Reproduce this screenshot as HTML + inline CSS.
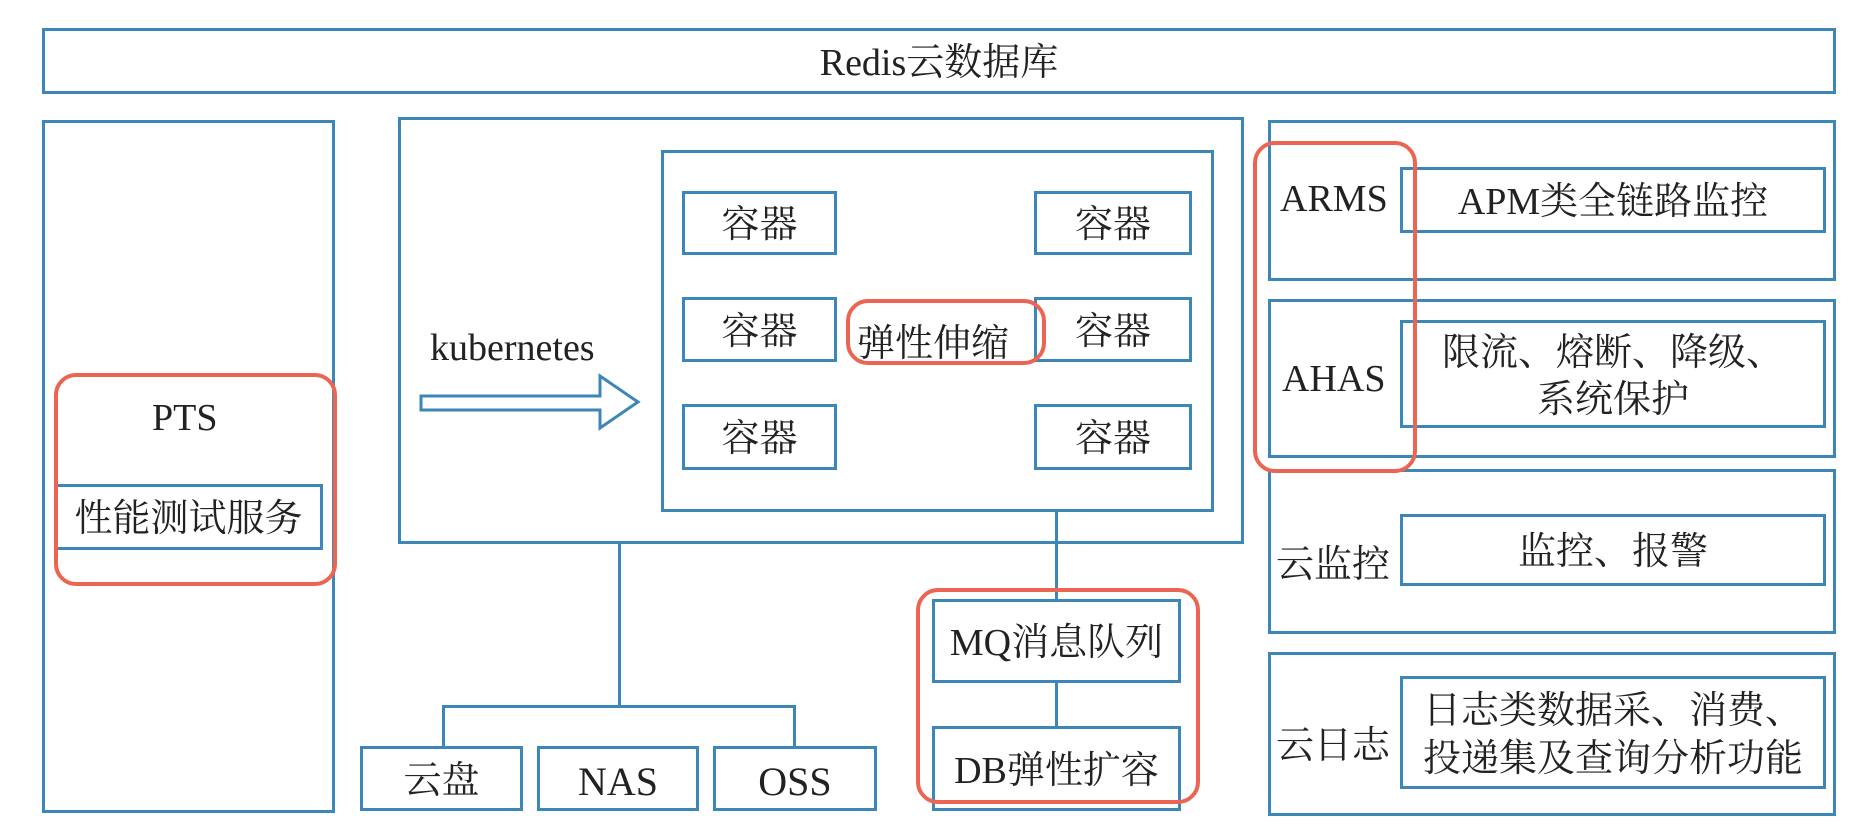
<!DOCTYPE html>
<html><head><meta charset="utf-8"><style>
html,body{margin:0;padding:0;background:#fff;}
body{width:1876px;height:840px;position:relative;overflow:hidden;font-family:"Liberation Serif","Noto Serif CJK SC","Noto Sans CJK SC",serif;color:#222;}
.b{position:absolute;border:3px solid #3d86b8;box-sizing:border-box;display:flex;align-items:center;justify-content:center;font-size:38px;line-height:1.25;text-align:center;padding-top:6px;}
.r{position:absolute;border:4px solid #ec6452;border-radius:22px;box-sizing:border-box;}
.t{position:absolute;font-size:38px;white-space:nowrap;}
.l{position:absolute;background:#3d86b8;}
</style></head><body>
<div class="b" style="left:42px;top:28px;width:1794px;height:66px;">Redis云数据库</div>

<div class="b" style="left:42px;top:120px;width:293px;height:693px;"></div>
<div class="t" style="left:152px;top:396px;">PTS</div>
<div class="b" style="left:54px;top:484px;width:269px;height:66px;">性能测试服务</div>
<div class="r" style="left:54px;top:373px;width:283px;height:213px;"></div>

<div class="b" style="left:398px;top:117px;width:846px;height:427px;"></div>
<div class="b" style="left:661px;top:150px;width:553px;height:362px;"></div>
<div class="b" style="left:682px;top:191px;width:155px;height:64px;">容器</div>
<div class="b" style="left:682px;top:297px;width:155px;height:65px;">容器</div>
<div class="b" style="left:682px;top:404px;width:155px;height:66px;">容器</div>
<div class="b" style="left:1034px;top:191px;width:158px;height:64px;">容器</div>
<div class="b" style="left:1034px;top:297px;width:158px;height:65px;">容器</div>
<div class="b" style="left:1034px;top:404px;width:158px;height:66px;">容器</div>
<div class="t" style="left:857px;top:312px;">弹性伸缩</div>
<div class="r" style="left:846px;top:299px;width:200px;height:66px;"></div>
<div class="t" style="left:430px;top:326px;">kubernetes</div>
<svg style="position:absolute;left:418px;top:370px;" width="230" height="64">
<polygon points="3,26 182,26 182,6 220,32 182,58 182,40 3,40" fill="#fff" stroke="#3d86b8" stroke-width="3"/>
</svg>

<div class="l" style="left:618px;top:544px;width:3px;height:162px;"></div>
<div class="l" style="left:442px;top:705px;width:354px;height:3px;"></div>
<div class="l" style="left:442px;top:705px;width:3px;height:41px;"></div>
<div class="l" style="left:793px;top:705px;width:3px;height:41px;"></div>
<div class="b" style="left:360px;top:746px;width:163px;height:65px;">云盘</div>
<div class="b" style="left:537px;top:746px;width:162px;height:65px;font-size:40px;">NAS</div>
<div class="b" style="left:713px;top:746px;width:164px;height:65px;font-size:40px;">OSS</div>

<div class="l" style="left:1055px;top:512px;width:3px;height:87px;"></div>
<div class="l" style="left:1055px;top:683px;width:3px;height:43px;"></div>
<div class="b" style="left:932px;top:599px;width:249px;height:84px;">MQ消息队列</div>
<div class="b" style="left:932px;top:726px;width:249px;height:85px;">DB弹性扩容</div>
<div class="r" style="left:916px;top:588px;width:284px;height:216px;"></div>

<div class="b" style="left:1268px;top:120px;width:568px;height:161px;"></div>
<div class="b" style="left:1268px;top:299px;width:568px;height:159px;"></div>
<div class="b" style="left:1268px;top:469px;width:568px;height:165px;"></div>
<div class="b" style="left:1268px;top:652px;width:568px;height:164px;"></div>
<div class="t" style="left:1280px;top:177px;">ARMS</div>
<div class="t" style="left:1282px;top:357px;">AHAS</div>
<div class="t" style="left:1276px;top:533px;">云监控</div>
<div class="t" style="left:1276px;top:714px;">云日志</div>
<div class="b" style="left:1400px;top:167px;width:426px;height:66px;">APM类全链路监控</div>
<div class="b" style="left:1400px;top:320px;width:426px;height:108px;">限流、熔断、降级、<br>系统保护</div>
<div class="b" style="left:1400px;top:514px;width:426px;height:72px;">监控、报警</div>
<div class="b" style="left:1400px;top:676px;width:426px;height:113px;">日志类数据采、消费、<br>投递集及查询分析功能</div>
<div class="r" style="left:1253px;top:141px;width:164px;height:332px;"></div>
</body></html>
